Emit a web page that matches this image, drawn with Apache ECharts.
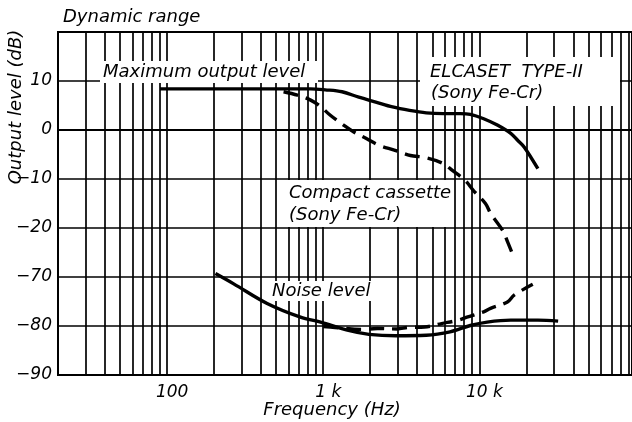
<!DOCTYPE html>
<html><head><meta charset="utf-8">
<script src="https://cdn.jsdelivr.net/npm/echarts/dist/echarts.min.js"></script>
<style>html,body{margin:0;padding:0;background:#fff}#c{width:632px;height:422px}</style>
</head><body><div id="c"></div>
<script>
// Vertical grid frequencies (Hz)
const gridFreqs = [30,40,50,60,70,80,90,100,200,300,400,500,600,700,800,900,1000,2000,3000,4000,5000,6000,7000,8000,9000,10000,20000,30000,40000,50000,60000,70000,80000,90000];
const xTickLabels = {100: '100', 1000: '1 k', 10000: '10 k'};

// ELCASET TYPE-II (Sony Fe-Cr) maximum output level, dB
const elcasetFreq  = [90, 200, 500, 830, 1030, 1320, 1690, 2170, 2780, 3570, 4570, 5860, 7530, 8750, 10660, 13030, 15890, 17580, 19400, 23700];
const elcasetLevel = [8.4, 8.4, 8.4, 8.4, 8.2, 7.8, 6.7, 5.7, 4.7, 4.0, 3.5, 3.35, 3.35, 3.2, 2.3, 1.0, -0.7, -2.1, -3.5, -7.9];

// Compact cassette (Sony Fe-Cr) maximum output level, dB
const compactFreq  = [557, 684, 830, 960, 1110, 1350, 1570, 1900, 2270, 2850, 3620, 4460, 5830, 6680, 8110, 9140, 10940, 11790, 14100, 15190, 16640];
const compactLevel = [7.8, 7.1, 6.1, 4.8, 3.0, 1.0, -0.4, -1.8, -3.1, -4.1, -5.2, -5.6, -6.8, -8.2, -10.3, -12.3, -15.0, -17.0, -20.5, -22.9, -26.0];

// ELCASET noise level, dB
const elNoiseFreq  = [204, 267, 437, 715, 961, 1450, 1960, 2920, 4570, 6490, 8750, 11220, 15890, 23720, 31960];
const elNoiseLevel = [-69.3, -71.4, -75.4, -78.2, -79.2, -80.9, -81.7, -82.0, -81.9, -81.2, -79.9, -79.2, -78.8, -78.8, -79.0];

// Compact cassette noise level, dB
const ccNoiseFreq  = [1000, 1190, 1780, 2220, 2990, 3480, 4460, 5730, 7350, 8320, 10660, 11790, 15130, 16700, 21980];
const ccNoiseLevel = [-80.1, -80.3, -80.7, -80.5, -80.6, -80.3, -80.2, -79.5, -78.8, -78.2, -77.1, -76.4, -75.1, -73.7, -71.5];

// Broken y scale: -20..20 drawn as is, -70..-90 drawn right below -20
const toAxis = v => (v <= -45 ? v + 40 : v);
const fromAxis = v => (v <= -30 ? v - 40 : v);
const pairs = (fs, ls) => fs.map((f, i) => [f, toAxis(ls[i])]);

const FONT = '"DejaVu Sans"';
const txt = {fontFamily: FONT, fontStyle: 'italic', color: '#000'};

const chart = echarts.init(document.getElementById('c'), null, {renderer: 'canvas'});
const curve = (name, data, dashed) => ({
  name, type: 'line', data, showSymbol: false, smooth: 0.35, silent: true, z: 3,
  lineStyle: {color: '#000', width: 3.4, type: dashed ? [15, 8] : 'solid', cap: 'butt'}
});

const boxes = [
  {x: 100, y: 61, w: 218, h: 22},
  {x: 420, y: 57, w: 200, h: 49},
  {x: 285, y: 180, w: 167, h: 47},
  {x: 269, y: 281, w: 104, h: 20}
];
const labels = [
  {t: 'Maximum output level', x: 103, y: 72},
  {t: 'ELCASET  TYPE-II', x: 430, y: 72},
  {t: '(Sony Fe-Cr)', x: 431, y: 93},
  {t: 'Compact cassette', x: 289, y: 193},
  {t: '(Sony Fe-Cr)', x: 289, y: 215},
  {t: 'Noise level', x: 272, y: 291},
  {t: 'Dynamic range', x: 63, y: 17}
];

chart.setOption({
  animation: false,
  backgroundColor: '#fff',
  grid: {left: 58, right: 0, top: 32, bottom: 47, show: true, borderColor: '#000', borderWidth: 2,
         backgroundColor: 'transparent', containLabel: false, outerBoundsMode: 'none'},
  xAxis: {
    type: 'log', logBase: 10, min: 20, max: 95000,
    name: 'Frequency (Hz)', nameLocation: 'middle', nameGap: 26, nameMoveOverlap: false,
    nameTextStyle: Object.assign({}, txt, {fontSize: 18, padding: [0, 26, 0, 0]}),
    axisLine: {show: true, lineStyle: {color: '#000', width: 2}},
    axisTick: {show: false},
    splitLine: {show: false},
    axisLabel: Object.assign({}, txt, {fontSize: 17, margin: 9, showMinLabel: true, showMaxLabel: true, padding: [0, 0, 0, 10],
      formatter: v => xTickLabels[Math.round(v)] || ''})
  },
  yAxis: {
    type: 'value', min: -50, max: 20, interval: 10,
    axisLine: {show: true, lineStyle: {color: '#000', width: 2}},
    axisTick: {show: false},
    splitLine: {show: true, lineStyle: {color: '#000', width: 1.7}},
    axisLabel: Object.assign({}, txt, {fontSize: 17, margin: 6,
      formatter: v => (v >= 20 ? '' : String(fromAxis(v)).replace('-', '\u2212'))})
  },
  series: [
    {type: 'line', data: [], silent: true, z: 1,
     markLine: {silent: true, symbol: 'none', animation: false, z: 1, label: {show: false},
       lineStyle: {color: '#000', width: 1.7, type: 'solid'},
       emphasis: {disabled: true},
       data: gridFreqs.map(f => ({xAxis: f}))}},
    curve('ELCASET max', pairs(elcasetFreq, elcasetLevel), false),
    curve('Compact max', pairs(compactFreq, compactLevel), true),
    curve('ELCASET noise', pairs(elNoiseFreq, elNoiseLevel), false),
    curve('Compact noise', pairs(ccNoiseFreq, ccNoiseLevel), true)
  ],
  graphic: [
    ...boxes.map(b => ({type: 'rect', z: 50, silent: true, shape: {x: b.x, y: b.y, width: b.w, height: b.h}, style: {fill: '#fff'}})),
    ...labels.map(l => ({type: 'text', z: 60, silent: true, x: l.x, y: l.y,
      style: {text: l.t, fill: '#000', font: 'italic 18px ' + FONT, textVerticalAlign: 'middle', verticalAlign: 'middle'}})),
    {type: 'text', z: 60, silent: true, x: 16, y: 107, rotation: Math.PI / 2,
     style: {text: 'Output level (dB)', fill: '#000', font: 'italic 18px ' + FONT,
             align: 'center', textAlign: 'center', verticalAlign: 'middle', textVerticalAlign: 'middle'}}
  ]
});
</script></body></html>
